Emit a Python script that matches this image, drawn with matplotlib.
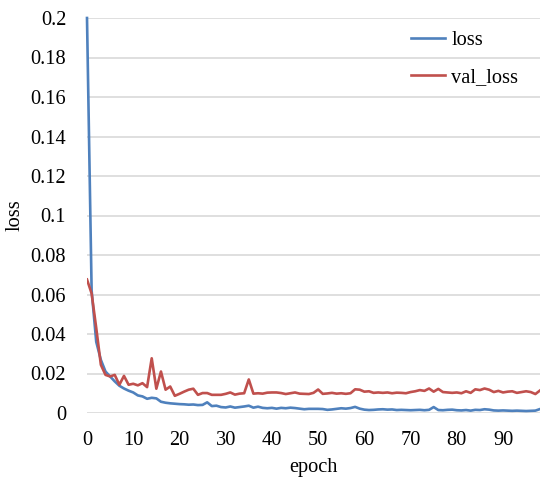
import matplotlib
matplotlib.use("Agg")
import matplotlib.pyplot as plt
import numpy as np

epochs = list(range(99))
loss = [0.2, 0.062, 0.036, 0.0269, 0.021, 0.0185, 0.016, 0.0138, 0.0124, 0.0113,
        0.0104, 0.0089, 0.0084, 0.0072, 0.0077, 0.0074, 0.0057, 0.0052, 0.0049, 0.0047,
        0.0045, 0.0044, 0.0042, 0.0043, 0.0040, 0.0041, 0.0054, 0.0035, 0.0037, 0.0030,
        0.0028, 0.0033, 0.0027, 0.0030, 0.0033, 0.0037, 0.0027, 0.0032, 0.0026, 0.0024,
        0.0026, 0.0022, 0.0026, 0.0024, 0.0027, 0.0025, 0.0022, 0.0019, 0.0021, 0.0021,
        0.0021, 0.0020, 0.0016, 0.0018, 0.0021, 0.0024, 0.0022, 0.0025, 0.0031, 0.0022,
        0.0017, 0.0015, 0.0016, 0.0018, 0.0019, 0.0017, 0.0018, 0.0015, 0.0016, 0.0015,
        0.0014, 0.0015, 0.0016, 0.0014, 0.0016, 0.0030, 0.0015, 0.0014, 0.0016, 0.0017,
        0.0014, 0.0013, 0.0015, 0.0012, 0.0016, 0.0015, 0.0019, 0.0017, 0.0013, 0.0012,
        0.0013, 0.0012, 0.0011, 0.0012, 0.0011, 0.0010, 0.0011, 0.0012, 0.0020]
val_loss = [0.0676, 0.0605, 0.043, 0.0244, 0.0193, 0.0185, 0.0193, 0.0143, 0.0188, 0.0143,
            0.0148, 0.0140, 0.0151, 0.0131, 0.0277, 0.0123, 0.0210, 0.0118, 0.0134, 0.0087,
            0.0097, 0.0108, 0.0118, 0.0123, 0.0092, 0.0101, 0.0101, 0.0092, 0.0092, 0.0092,
            0.0097, 0.0104, 0.0093, 0.0098, 0.0100, 0.0170, 0.0098, 0.0100, 0.0098, 0.0103,
            0.0104, 0.0104, 0.0101, 0.0096, 0.0100, 0.0104, 0.0098, 0.0097, 0.0096, 0.0102,
            0.0119, 0.0097, 0.0099, 0.0102, 0.0098, 0.0100, 0.0097, 0.0100, 0.0120, 0.0118,
            0.0108, 0.0110, 0.0102, 0.0104, 0.0102, 0.0104, 0.0100, 0.0103, 0.0102, 0.0100,
            0.0106, 0.0110, 0.0116, 0.0112, 0.0124, 0.0108, 0.0122, 0.0106, 0.0104, 0.0102,
            0.0104, 0.0100, 0.0110, 0.0102, 0.0120, 0.0116, 0.0124, 0.0118, 0.0106, 0.0112,
            0.0104, 0.0108, 0.0110, 0.0102, 0.0106, 0.0110, 0.0106, 0.0096, 0.0114]
x_ticks = list(range(0, 100, 10))
y_ticks = [0, 0.02, 0.04, 0.06, 0.08, 0.1, 0.12, 0.14, 0.16, 0.18, 0.2]
y_tick_labels = ["0", "0.02", "0.04", "0.06", "0.08", "0.1", "0.12", "0.14", "0.16", "0.18", "0.2"]

plt.rcParams['font.family'] = ['Liberation Serif', 'DejaVu Serif']
plt.rcParams['font.size'] = 14.7

W, H = 540, 479
fig = plt.figure(figsize=(W / 100, H / 100), dpi=100)
ax = fig.add_axes([87 / W, 1 - 413 / H, (540 - 87) / W, (413 - 18) / H])

ax.plot(epochs, loss, color='#4F81BD', lw=1.9, label='loss', solid_joinstyle='round', clip_on=False)
ax.plot(epochs, val_loss, color='#C0504D', lw=1.9, label='val_loss', solid_joinstyle='round')

ax.set_xlim(0, 98)
ax.set_ylim(0, 0.2)
ax.set_xticks(x_ticks)
ax.set_yticks(y_ticks)
ax.set_yticklabels(y_tick_labels)
ax.tick_params(axis='both', length=0)
ax.tick_params(axis='y', pad=15)
ax.tick_params(axis='x', pad=13)
for s in ax.spines.values():
    s.set_visible(False)
ax.grid(axis='y', color='#D9D9D9', lw=1.2)
ax.set_axisbelow(True)

ax.set_xlabel('epoch')
ax.set_ylabel('loss')
ax.xaxis.set_label_coords((313 - 87) / 453, (413 - 458) / 395)
ax.yaxis.set_label_coords((25 - 87) / 453, (413 - 215) / 395)

ax.legend(loc='upper left', bbox_to_anchor=(411 / W, 1 - 31 / H), bbox_transform=fig.transFigure,
          frameon=False, borderpad=0, borderaxespad=0, handlelength=1.67, handletextpad=0.3,
          labelspacing=0.88)

fig.savefig('out.png', dpi=100)
